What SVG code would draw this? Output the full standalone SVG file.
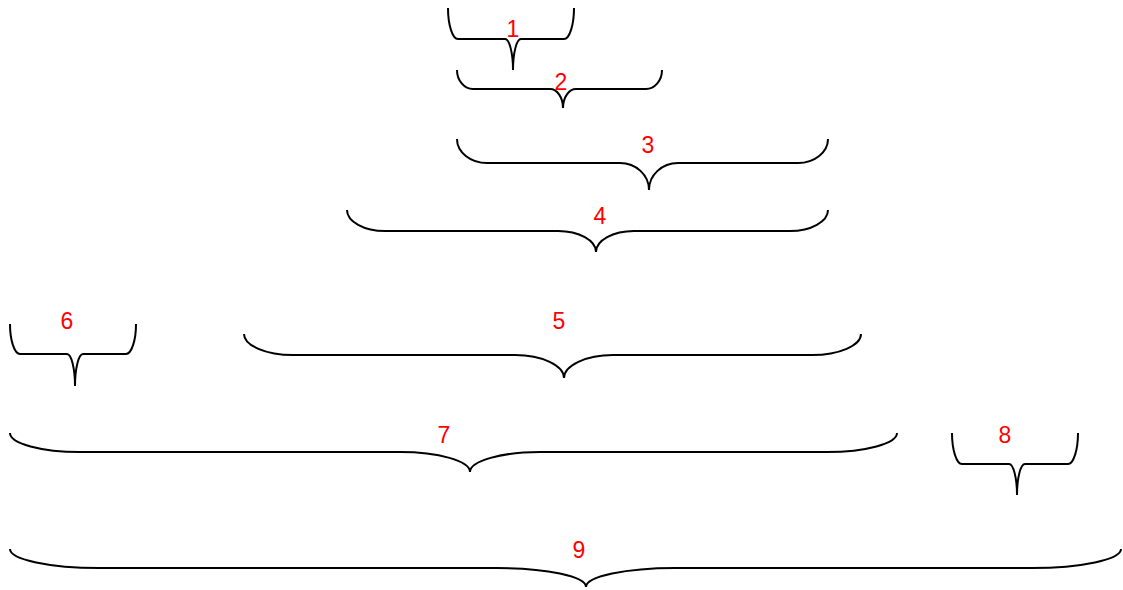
<svg xmlns="http://www.w3.org/2000/svg" width="1123" height="590" viewBox="0 0 1123 590">
<style>
.b{fill:none;stroke:#000;stroke-width:2}
.t{font-family:"Liberation Sans",Arial,sans-serif;font-size:23px;fill:#ff0000;text-anchor:middle}
</style>
<rect width="1123" height="590" fill="#fff"/>
<g id="connectors">
<g id="brace1"><path class="b" d="M448 8 C448 25 452.5 39 458 39 L505 39 C509.4 39 513 53 513 70 C513 53 516.6 39 521 39 L564 39 C569.5 39 574 25 574 8"/></g>
<g id="brace2"><path class="b" d="M457 70 C457 80.5 464.2 89 473 89 L550 89 C557.2 89 563 97.5 563 108 C563 97.5 568.8 89 576 89 L646 89 C654.8 89 662 80.5 662 70"/></g>
<g id="brace3"><path class="b" d="M457 139 C457 152.2 470.5 163 487 163 L620 163 C636 163 649 175 649 190 C649 175 662 163 678 163 L798 163 C814.5 163 828 152.2 828 139"/></g>
<g id="brace4"><path class="b" d="M347 210 C347 221.5 364 231 385 231 L558 231 C579 231 596 240.5 596 252 C596 240.5 613 231 634 231 L790 231 C811 231 828 221.5 828 210"/></g>
<g id="brace5"><path class="b" d="M244 334 C244 345.5 266 355 293 355 L515 355 C542 355 564 365.5 564 378 C564 365.5 586 355 613 355 L812 355 C839 355 861 345.5 861 334"/></g>
<g id="brace6"><path class="b" d="M10 324 C10 340.5 14.5 354 20 354 L67 354 C71.4 354 75 368.5 75 386 C75 368.5 78.6 354 83 354 L126 354 C131.5 354 136 340.5 136 324"/></g>
<g id="brace7"><path class="b" d="M10 433 C10 443.5 41.5 452 80 452 L400 452 C438.5 452 470 461 470 472 C470 461 501.5 452 540 452 L827 452 C865.5 452 897 443.5 897 433"/></g>
<g id="brace8"><path class="b" d="M952 433 C952 450 956.5 464 962 464 L1009 464 C1013.4 464 1017 478 1017 495 C1017 478 1020.6 464 1025 464 L1068 464 C1073.5 464 1078 450 1078 433"/></g>
<g id="brace9"><path class="b" d="M10 549 C10 559.5 50 568 99 568 L497 568 C546 568 586 576.5 586 587 C586 576.5 626 568 675 568 L1032 568 C1081 568 1121 559.5 1121 549"/></g>
</g>
<g id="labels">
<g id="label1"><text class="t" x="513" y="37">1</text></g>
<g id="label2"><text class="t" x="561" y="90">2</text></g>
<g id="label3"><text class="t" x="648" y="153">3</text></g>
<g id="label4"><text class="t" x="600" y="224">4</text></g>
<g id="label5"><text class="t" x="559" y="329">5</text></g>
<g id="label6"><text class="t" x="67" y="329">6</text></g>
<g id="label7"><text class="t" x="444" y="443">7</text></g>
<g id="label8"><text class="t" x="1005" y="443">8</text></g>
<g id="label9"><text class="t" x="579" y="558">9</text></g>
</g>
</svg>
